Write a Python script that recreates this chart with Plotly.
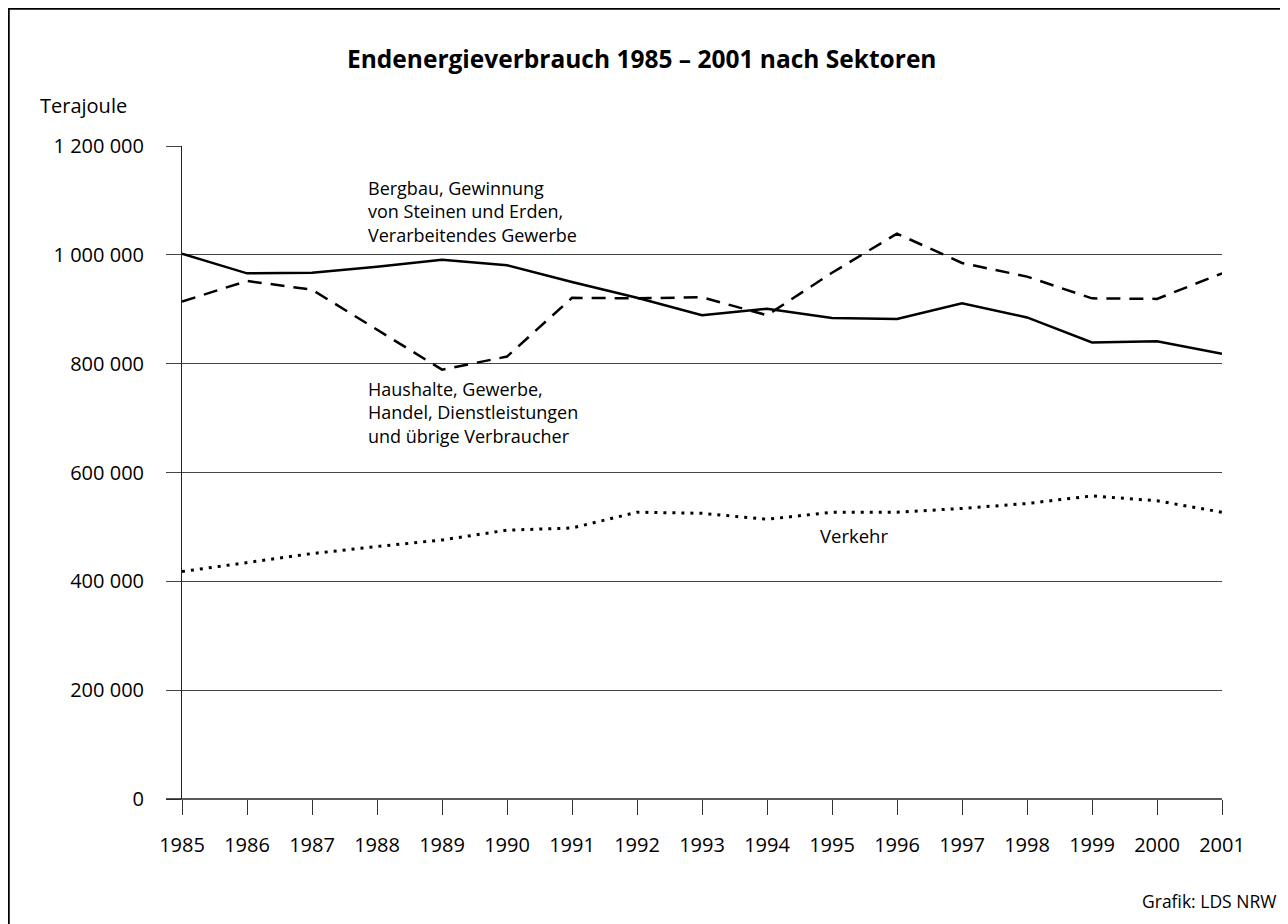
import plotly.graph_objects as go

years = list(range(1985, 2002))
industrie = [1002000, 966000, 967000, 978000, 991000, 981000, 950000, 921000, 889000,
             901000, 884000, 882000, 911000, 885000, 839000, 841000, 818000]
haushalte = [914000, 952000, 936000, 862000, 789000, 813000, 921000, 920000, 922000,
             889000, 967000, 1039000, 985000, 960000, 920000, 919000, 966000]
verkehr = [418000, 434000, 451000, 464000, 476000, 494000, 498000, 527000, 525000,
           514000, 527000, 527000, 534000, 543000, 557000, 548000, 527000]

y_tickvals = [0, 200000, 400000, 600000, 800000, 1000000, 1200000]
y_ticktext = ["0", "200 000", "400 000", "600 000", "800 000", "1 000 000", "1 200 000"]

label_industrie = ["Bergbau, Gewinnung", "von Steinen und Erden,", "Verarbeitendes Gewerbe"]
label_haushalte = ["Haushalte, Gewerbe,", "Handel, Dienstleistungen", "und übrige Verbraucher"]

FONT = "Open Sans"

fig = go.Figure()
fig.add_trace(go.Scatter(x=years, y=industrie, mode="lines",
                         line=dict(color="black", width=2.5), hoverinfo="skip"))
fig.add_trace(go.Scatter(x=years, y=haushalte, mode="lines",
                         line=dict(color="black", width=2.5, dash="14px,9px"), hoverinfo="skip"))
fig.add_trace(go.Scatter(x=years, y=verkehr, mode="lines",
                         line=dict(color="black", width=3, dash="3px,6px"), hoverinfo="skip"))

# page body has an 8px margin; work in screen coordinates and subtract it
OFF = 8
W, H = 1288 - OFF, 924 - OFF
L, R, T, B = 182 - OFF, 1222 - OFF, 146 - OFF, 799 - OFF


def px(x):
    return (x - OFF - L) / (R - L)


def py(y):
    return (B - (y - OFF)) / (B - T)


fig.update_layout(
    width=W, height=H,
    margin=dict(l=L, r=W - R, t=T, b=H - B),
    plot_bgcolor="white", paper_bgcolor="white",
    showlegend=False,
    font=dict(family=FONT, color="black", size=18),
    xaxis=dict(range=[1985, 2001], tickvals=years, ticktext=[str(y) for y in years],
               showgrid=False, zeroline=False, showline=False,
               ticks="outside", ticklen=15, tickwidth=1, tickcolor="#333",
               ticklabelstandoff=13, tickfont=dict(size=20, family=FONT)),
    yaxis=dict(range=[0, 1200000], tickvals=y_tickvals, ticktext=y_ticktext,
               showgrid=True, gridcolor="#444", gridwidth=1, zeroline=False,
               showline=True, linecolor="#222", linewidth=1,
               ticks="outside", ticklen=15, tickwidth=1, tickcolor="#444",
               ticklabelstandoff=18, tickfont=dict(size=20, family=FONT)),
)

# bottom axis line extended left to the tick
fig.add_shape(type="line", xref="paper", yref="paper", x0=px(166), x1=1, y0=0, y1=0,
              line=dict(color="#222", width=1.5))

# frame
fig.add_shape(type="line", xref="paper", yref="paper", x0=px(8.5), x1=px(8.5), y0=py(7), y1=py(940),
              line=dict(color="black", width=2.5))
fig.add_shape(type="line", xref="paper", yref="paper", x0=px(7), x1=px(1287), y0=py(8.5), y1=py(8.5),
              line=dict(color="black", width=2.5))
fig.add_shape(type="line", xref="paper", yref="paper", x0=px(1286), x1=px(1286), y0=py(8), y1=py(940),
              line=dict(color="#555", width=1.5))

fig.add_annotation(text="<b>Endenergieverbrauch 1985 – 2001 nach Sektoren</b>",
                   xref="paper", yref="paper", x=px(641), y=py(58), xanchor="center", yanchor="middle",
                   showarrow=False, font=dict(size=24.5, family=FONT))
fig.add_annotation(text="Terajoule", xref="paper", yref="paper", x=px(38), y=py(105),
                   xanchor="left", yanchor="middle", showarrow=False, font=dict(size=20, family=FONT))

fig.add_annotation(text="<br>".join(label_industrie), xref="paper", yref="paper",
                   x=px(366), y=py(212), xanchor="left", yanchor="middle", align="left",
                   showarrow=False, font=dict(size=18, family=FONT))
fig.add_annotation(text="<br>".join(label_haushalte), xref="paper", yref="paper",
                   x=px(366), y=py(412), xanchor="left", yanchor="middle", align="left",
                   showarrow=False, font=dict(size=18, family=FONT))
fig.add_annotation(text="Verkehr", xref="paper", yref="paper", x=px(818), y=py(535),
                   xanchor="left", yanchor="middle", showarrow=False, font=dict(size=18.5, family=FONT))
fig.add_annotation(text="Grafik: LDS NRW", xref="paper", yref="paper", x=px(1278), y=py(901),
                   xanchor="right", yanchor="middle", showarrow=False, font=dict(size=17.5, family=FONT))

fig.write_html("out.html")
